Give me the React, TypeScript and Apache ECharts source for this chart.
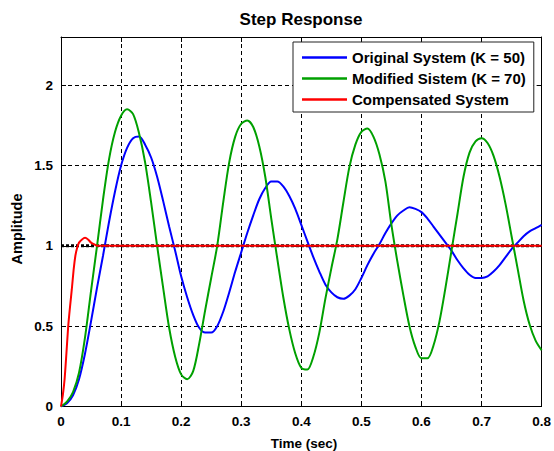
import React, { useEffect, useRef } from "react";
import * as echarts from "echarts";

// ---- data ----
const timeGrid = [
  0, 0.01, 0.02, 0.03, 0.04, 0.05, 0.06, 0.07, 0.08, 0.09,
  0.1, 0.11, 0.12, 0.13, 0.14, 0.15, 0.16, 0.17, 0.18, 0.19,
  0.2, 0.21, 0.22, 0.23, 0.24, 0.25, 0.26, 0.27, 0.28, 0.29,
  0.3, 0.31, 0.32, 0.33, 0.34, 0.35, 0.36, 0.37, 0.38, 0.39,
  0.4, 0.41, 0.42, 0.43, 0.44, 0.45, 0.46, 0.47, 0.48, 0.49,
  0.5, 0.51, 0.52, 0.53, 0.54, 0.55, 0.56, 0.57, 0.58, 0.59,
  0.6, 0.61, 0.62, 0.63, 0.64, 0.65, 0.66, 0.67, 0.68, 0.69,
  0.7, 0.71, 0.72, 0.73, 0.74, 0.75, 0.76, 0.77, 0.78, 0.79,
  0.8,
];

const originalK50 = [
  0, 0.02, 0.07, 0.17, 0.33, 0.53, 0.74, 0.94, 1.15, 1.34,
  1.5, 1.61, 1.67, 1.68, 1.63, 1.55, 1.43, 1.28, 1.12, 0.97,
  0.81, 0.68, 0.57, 0.49, 0.46, 0.46, 0.5, 0.59, 0.71, 0.84,
  0.96, 1.08, 1.19, 1.29, 1.36, 1.4, 1.4, 1.37, 1.31, 1.23,
  1.13, 1.03, 0.93, 0.84, 0.76, 0.71, 0.68, 0.67, 0.69, 0.73,
  0.8, 0.88, 0.95, 1.01, 1.08, 1.14, 1.19, 1.22, 1.24, 1.23,
  1.21, 1.17, 1.12, 1.07, 1.02, 0.97, 0.91, 0.86, 0.82, 0.8,
  0.8, 0.81, 0.84, 0.88, 0.93, 0.98, 1.02, 1.06, 1.09, 1.11,
  1.13,
];

const modifiedK70 = [
  0, 0.03, 0.09, 0.21, 0.43, 0.72, 1.0, 1.29, 1.54, 1.71,
  1.81, 1.85, 1.82, 1.7, 1.52, 1.27, 1.0, 0.74, 0.49, 0.31,
  0.2, 0.17, 0.22, 0.39, 0.6, 0.8, 1.0, 1.27, 1.52, 1.68,
  1.76, 1.78, 1.74, 1.62, 1.43, 1.17, 0.92, 0.68, 0.48, 0.33,
  0.24, 0.23, 0.31, 0.46, 0.67, 0.86, 1.04, 1.27, 1.49, 1.63,
  1.71, 1.73, 1.68, 1.57, 1.4, 1.13, 0.9, 0.69, 0.5, 0.37,
  0.3, 0.3, 0.38, 0.53, 0.74, 0.97, 1.2, 1.43, 1.58, 1.65,
  1.67, 1.64, 1.56, 1.43, 1.26, 1.06, 0.86, 0.66, 0.51, 0.41,
  0.35,
];

const compTime = [
  0, 0.003, 0.006, 0.009, 0.012, 0.015, 0.018, 0.021, 0.024, 0.027,
  0.03, 0.035, 0.04, 0.045, 0.05, 0.055, 0.06, 0.07, 0.8,
];
const compensated = [
  0, 0.07, 0.17, 0.33, 0.5, 0.62, 0.73, 0.85, 0.94, 0.99,
  1.02, 1.04, 1.05, 1.04, 1.02, 1.01, 1.0, 1.0, 1.0,
];

const steadyTime = [0, 0.8];
const steadyValue = [1, 1];

const xTickValues = [0, 0.1, 0.2, 0.3, 0.4, 0.5, 0.6, 0.7, 0.8];
const yTickValues = [0, 0.5, 1, 1.5, 2];

const seriesNames = [
  "Original System (K = 50)",
  "Modified Sistem (K = 70)",
  "Compensated System",
];
const seriesColors = ["#0000ff", "#00a000", "#ff0000"];

const FONT = '"Liberation Sans", Arial, Helvetica, sans-serif';

const zip = (xs: number[], ys: number[]) => xs.map((x, i) => [x, ys[i]]);

const fmtTick = (ticks: number[]) => (v: number) => {
  const hit = ticks.find((t) => Math.abs(t - v) < 1e-6);
  if (hit === undefined) return "";
  return String(Math.round(hit * 10) / 10);
};

export default function App() {
  const ref = useRef<HTMLDivElement>(null);

  useEffect(() => {
    document.body.style.margin = "0";
    if (!ref.current) return;
    const chart = echarts.init(ref.current, undefined, { renderer: "svg" });

    const axisLineStyle = { color: "#000", width: 1 };
    const labelStyle = {
      color: "#000",
      fontWeight: "bold" as const,
      fontSize: 13.5,
      fontFamily: FONT,
    };

    chart.setOption({
      animation: false,
      backgroundColor: "#fff",
      grid: { left: 61, top: 37, right: 8, bottom: 44.5, show: false },
      xAxis: [
        {
          type: "value",
          position: "bottom",
          min: 0,
          max: 0.8,
          interval: 0.1,
          axisLine: { show: true, onZero: false, lineStyle: axisLineStyle },
          axisTick: { show: true, inside: true, length: 5, lineStyle: axisLineStyle },
          axisLabel: { ...labelStyle, margin: 8, formatter: fmtTick(xTickValues) },
          splitLine: { show: true, lineStyle: { color: "#000", width: 1, type: [4, 3] } },
        },
        {
          type: "value",
          position: "top",
          min: 0,
          max: 0.8,
          interval: 0.1,
          axisLine: { show: true, onZero: false, lineStyle: axisLineStyle },
          axisTick: { show: true, inside: true, length: 5, lineStyle: axisLineStyle },
          axisLabel: { show: false },
          splitLine: { show: false },
        },
      ],
      yAxis: [
        {
          type: "value",
          position: "left",
          min: 0,
          max: 2.3,
          interval: 0.5,
          axisLine: { show: true, onZero: false, lineStyle: axisLineStyle },
          axisTick: { show: true, inside: true, length: 5, lineStyle: axisLineStyle },
          axisLabel: { ...labelStyle, margin: 8, formatter: fmtTick(yTickValues) },
          splitLine: { show: true, lineStyle: { color: "#000", width: 1, type: [4, 3] } },
        },
        {
          type: "value",
          position: "right",
          min: 0,
          max: 2.3,
          interval: 0.5,
          axisLine: { show: true, onZero: false, lineStyle: axisLineStyle },
          axisTick: { show: true, inside: true, length: 5, lineStyle: axisLineStyle },
          axisLabel: { show: false },
          splitLine: { show: false },
        },
      ],
      legend: {
        data: seriesNames,
        orient: "vertical",
        left: 293,
        top: 42,
        icon: "rect",
        itemWidth: 45,
        itemHeight: 2.5,
        itemGap: 6,
        padding: [8, 8, 5, 9],
        backgroundColor: "#fff",
        borderColor: "#222",
        borderWidth: 1,
        textStyle: {
          color: "#000",
          fontWeight: "bold",
          fontSize: 15,
          lineHeight: 15,
          fontFamily: FONT,
        },
      },
      graphic: [
        {
          type: "text",
          x: 301,
          y: 19,
          style: {
            text: "Step Response",
            font: `bold 17px ${FONT}`,
            fill: "#000",
            align: "center",
            verticalAlign: "middle",
          },
        },
        {
          type: "text",
          x: 304,
          y: 443,
          style: {
            text: "Time (sec)",
            font: `bold 13.5px ${FONT}`,
            fill: "#000",
            align: "center",
            verticalAlign: "middle",
          },
        },
        {
          type: "text",
          x: 17,
          y: 229,
          rotation: Math.PI / 2,
          style: {
            text: "Amplitude",
            font: `bold 14.5px ${FONT}`,
            fill: "#000",
            align: "center",
            verticalAlign: "middle",
          },
        },
      ],
      series: [
        {
          name: "steady",
          type: "line",
          data: zip(steadyTime, steadyValue),
          symbol: "none",
          silent: true,
          z: 1,
          lineStyle: { color: "#000", width: 3, type: [3, 2] },
        },
        {
          name: seriesNames[0],
          type: "line",
          data: zip(timeGrid, originalK50),
          smooth: 0.3,
          symbol: "none",
          z: 2,
          itemStyle: { color: seriesColors[0] },
          lineStyle: { color: seriesColors[0], width: 2 },
        },
        {
          name: seriesNames[1],
          type: "line",
          data: zip(timeGrid, modifiedK70),
          smooth: 0.3,
          symbol: "none",
          z: 3,
          itemStyle: { color: seriesColors[1] },
          lineStyle: { color: seriesColors[1], width: 2 },
        },
        {
          name: seriesNames[2],
          type: "line",
          data: zip(compTime, compensated),
          smooth: 0.2,
          symbol: "none",
          z: 4,
          itemStyle: { color: seriesColors[2] },
          lineStyle: { color: seriesColors[2], width: 2 },
        },
      ],
    });

    return () => chart.dispose();
  }, []);

  return (
    <div
      ref={ref}
      style={{ position: "fixed", left: 0, top: 0, width: 554, height: 451, background: "#fff" }}
    />
  );
}
